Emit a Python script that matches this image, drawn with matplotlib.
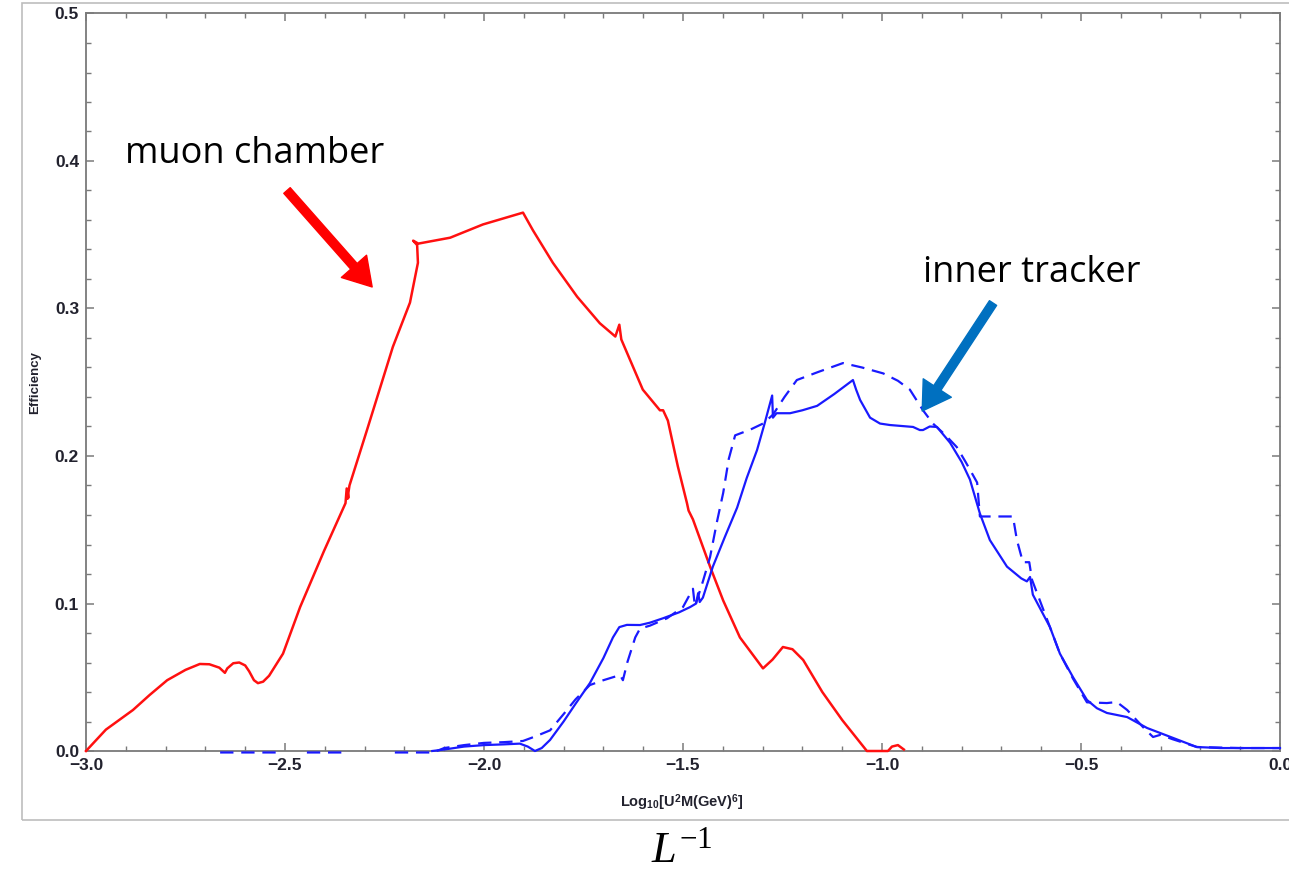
import matplotlib
matplotlib.use("Agg")
import matplotlib.pyplot as plt
from matplotlib.patches import Rectangle
from matplotlib.ticker import MultipleLocator
import numpy as np

plt.rcParams['mathtext.fontset'] = 'custom'
plt.rcParams['mathtext.it'] = 'Liberation Serif:italic'
plt.rcParams['mathtext.rm'] = 'Liberation Serif'
plt.rcParams['mathtext.bf'] = 'Liberation Sans:bold'

# ---- data: muon chamber (red) ----
muon_x = [-3.000, -2.950, -2.882, -2.840, -2.796, -2.750, -2.714, -2.690, -2.665, -2.651,
          -2.645, -2.630, -2.615, -2.600, -2.590, -2.578, -2.568, -2.555, -2.540, -2.505,
          -2.462, -2.402, -2.348, -2.345, -2.340, -2.343, -2.338, -2.294, -2.229, -2.186,
          -2.166, -2.168, -2.178, -2.165, -2.085, -2.0025, -1.902, -1.877, -1.827, -1.766,
          -1.709, -1.670, -1.660, -1.655, -1.601, -1.558, -1.550, -1.538, -1.513, -1.490,
          -1.486, -1.475, -1.432, -1.399, -1.357, -1.299, -1.275, -1.249, -1.225, -1.198,
          -1.150, -1.100, -1.038, -0.985, -0.975, -0.960, -0.945]
muon_y = [0.000, 0.0145, 0.0278, 0.038, 0.048, 0.055, 0.059, 0.0588, 0.0565, 0.053,
          0.056, 0.0595, 0.060, 0.058, 0.054, 0.048, 0.046, 0.047, 0.051, 0.066,
          0.0976, 0.1356, 0.168, 0.178, 0.172, 0.171, 0.180, 0.2176, 0.274, 0.304,
          0.331, 0.343, 0.346, 0.344, 0.348, 0.357, 0.365, 0.353, 0.331, 0.308,
          0.290, 0.281, 0.289, 0.279, 0.245, 0.231, 0.231, 0.224, 0.193, 0.168,
          0.163, 0.157, 0.125, 0.102, 0.077, 0.056, 0.062, 0.0705, 0.069, 0.0617,
          0.040, 0.021, 0.000, 0.000, 0.003, 0.004, 0.001]

# ---- data: inner tracker, solid ----
inner_solid_x = [-2.130, -2.100, -2.050, -2.000, -1.950, -1.910, -1.890, -1.872, -1.855, -1.834,
                 -1.800, -1.770, -1.734, -1.700, -1.676, -1.660, -1.641, -1.608, -1.583, -1.550,
                 -1.510, -1.482, -1.467, -1.462, -1.458, -1.450, -1.425, -1.395, -1.364, -1.340,
                 -1.314, -1.295, -1.281, -1.276, -1.274, -1.265, -1.231, -1.200, -1.163, -1.120,
                 -1.073, -1.065, -1.055, -1.030, -1.005, -0.980, -0.922, -0.905, -0.897, -0.880,
                 -0.862, -0.829, -0.800, -0.779, -0.754, -0.729, -0.686, -0.650, -0.636, -0.628,
                 -0.621, -0.578, -0.553, -0.520, -0.485, -0.460, -0.435, -0.384, -0.334, -0.270,
                 -0.209, -0.150, -0.050, 0.000]
inner_solid_y = [0.000, 0.001, 0.003, 0.004, 0.0045, 0.005, 0.003, 0.000, 0.002, 0.0075,
                 0.020, 0.032, 0.046, 0.063, 0.077, 0.084, 0.0855, 0.0854, 0.087, 0.090,
                 0.094, 0.0976, 0.100, 0.107, 0.101, 0.104, 0.125, 0.145, 0.165, 0.185,
                 0.204, 0.222, 0.236, 0.241, 0.226, 0.229, 0.229, 0.231, 0.234, 0.242,
                 0.2515, 0.245, 0.238, 0.226, 0.222, 0.221, 0.2197, 0.2176, 0.2176, 0.220,
                 0.2197, 0.209, 0.196, 0.184, 0.161, 0.143, 0.125, 0.117, 0.115, 0.118,
                 0.106, 0.084, 0.066, 0.050, 0.0346, 0.029, 0.0258, 0.023, 0.0156, 0.009,
                 0.0027, 0.002, 0.002, 0.002]

# ---- data: inner tracker, dashed ----
inner_dash_x = [-2.663, -2.505, np.nan, -2.445, -2.344, np.nan, -2.224, -2.128,
                -2.100, -2.050, -2.000, -1.950, -1.902, -1.870, -1.834, -1.800, -1.770, -1.734,
                -1.700, -1.658, -1.651, -1.640, -1.620, -1.608, -1.583, -1.540, -1.500, -1.475,
                -1.470, -1.450, -1.432, -1.415, -1.399, -1.385, -1.369, -1.330, -1.299, -1.274,
                -1.245, -1.214, -1.160, -1.098, -1.050, -0.997, -0.960, -0.930, -0.897, -0.872,
                -0.840, -0.812, -0.790, -0.761, -0.754, -0.700, -0.671, -0.661, -0.646, -0.630,
                -0.623, -0.578, -0.553, -0.520, -0.485, -0.435, -0.410, -0.384, -0.340, -0.319,
                -0.300, -0.270, -0.209, -0.100, 0.000]
inner_dash_y = [-0.001, -0.001, np.nan, -0.001, -0.001, np.nan, -0.001, -0.001,
                0.002, 0.004, 0.0055, 0.006, 0.0068, 0.010, 0.014, 0.025, 0.035, 0.0447,
                0.048, 0.0515, 0.048, 0.060, 0.077, 0.083, 0.085, 0.090, 0.0976, 0.110,
                0.098, 0.115, 0.1315, 0.155, 0.175, 0.198, 0.214, 0.218, 0.222, 0.228,
                0.240, 0.2515, 0.257, 0.263, 0.260, 0.256, 0.251, 0.245, 0.231, 0.222,
                0.214, 0.206, 0.196, 0.182, 0.159, 0.159, 0.159, 0.143, 0.128, 0.128,
                0.116, 0.084, 0.066, 0.049, 0.033, 0.0325, 0.0332, 0.0278, 0.015, 0.0095,
                0.011, 0.008, 0.0027, 0.002, 0.002]

x_ticks = [-3.0, -2.5, -2.0, -1.5, -1.0, -0.5, 0.0]
x_ticklabels = ['\u22123.0', '\u22122.5', '\u22122.0', '\u22121.5', '\u22121.0', '\u22120.5', '0.0']
y_ticks = [0.0, 0.1, 0.2, 0.3, 0.4, 0.5]
y_ticklabels = ['0.0', '0.1', '0.2', '0.3', '0.4', '0.5']

W, H = 1289, 869
fig = plt.figure(figsize=(W / 100, H / 100), dpi=100)
fig.patches.append(Rectangle((22 / W, 1 - 820 / H), 1.2, (817) / H, transform=fig.transFigure,
                             fill=False, edgecolor='#bdbdbd', linewidth=1.2))

ax = fig.add_axes([86 / W, 1 - 751 / H, (1280 - 86) / W, (751 - 13.5) / H])
ax.set_xlim(-3.0, 0.0)
ax.set_ylim(0.0, 0.5)

ax.plot(muon_x, muon_y, color='#ff1010', lw=1.8, clip_on=False, zorder=3)
ax.plot(inner_solid_x, inner_solid_y, color='#1a1aff', lw=1.6, clip_on=False, zorder=3)
ax.plot(inner_dash_x, inner_dash_y, color='#1a1aff', lw=1.6, ls=(0, (6, 3.5)), clip_on=False, zorder=3)

for s in ax.spines.values():
    s.set_color('#7a7a7a')
    s.set_linewidth(1.3)

ax.set_xticks(x_ticks)
ax.set_xticklabels(x_ticklabels)
ax.set_yticks(y_ticks)
ax.set_yticklabels(y_ticklabels)
ax.xaxis.set_minor_locator(MultipleLocator(0.1))
ax.yaxis.set_minor_locator(MultipleLocator(0.02))
ax.tick_params(which='both', direction='in', top=True, right=True, color='#7a7a7a')
ax.tick_params(which='major', length=5.5, width=1.1, labelsize=12.5, labelcolor='#22222e', pad=5)
ax.tick_params(which='minor', length=3.5, width=1.0)
for lab in ax.get_xticklabels() + ax.get_yticklabels():
    lab.set_fontweight('bold')
    lab.set_family('Liberation Sans')

fig.text(35 / W, 1 - 383 / H, 'Efficiency', rotation=90, ha='center', va='center',
         fontsize=9.5, fontweight='bold', family='Liberation Sans', color='#22222e')
fig.text(682 / W, 1 - 803 / H, r'Log$_{\mathbf{10}}$[U$^{\mathbf{2}}$M(GeV)$^{\mathbf{6}}$]',
         ha='center', va='center', fontsize=10.5, fontweight='bold', family='Liberation Sans',
         color='#22222e')
fig.text(682 / W, 1 - 862 / H, r'$L^{-1}$', ha='center', va='baseline', fontsize=32, color='black')

ax.text(-2.902, 0.3986, 'muon chamber', fontsize=26, family='Open Sans', color='black',
        va='baseline', ha='left')
ax.text(-0.897, 0.318, 'inner tracker', fontsize=26, family='Open Sans', color='black',
        va='baseline', ha='left')

ax.annotate('', xy=(-2.281, 0.3146), xytext=(-2.495, 0.380),
            arrowprops=dict(arrowstyle='simple,head_length=0.9,head_width=1.1,tail_width=0.28',
                            color='#ff0000', shrinkA=0, shrinkB=0, mutation_scale=22))
ax.annotate('', xy=(-0.899, 0.2305), xytext=(-0.721, 0.3037),
            arrowprops=dict(arrowstyle='simple,head_length=0.9,head_width=1.1,tail_width=0.28',
                            color='#0070c0', shrinkA=0, shrinkB=0, mutation_scale=22))

fig.savefig('out.png', dpi=100)
